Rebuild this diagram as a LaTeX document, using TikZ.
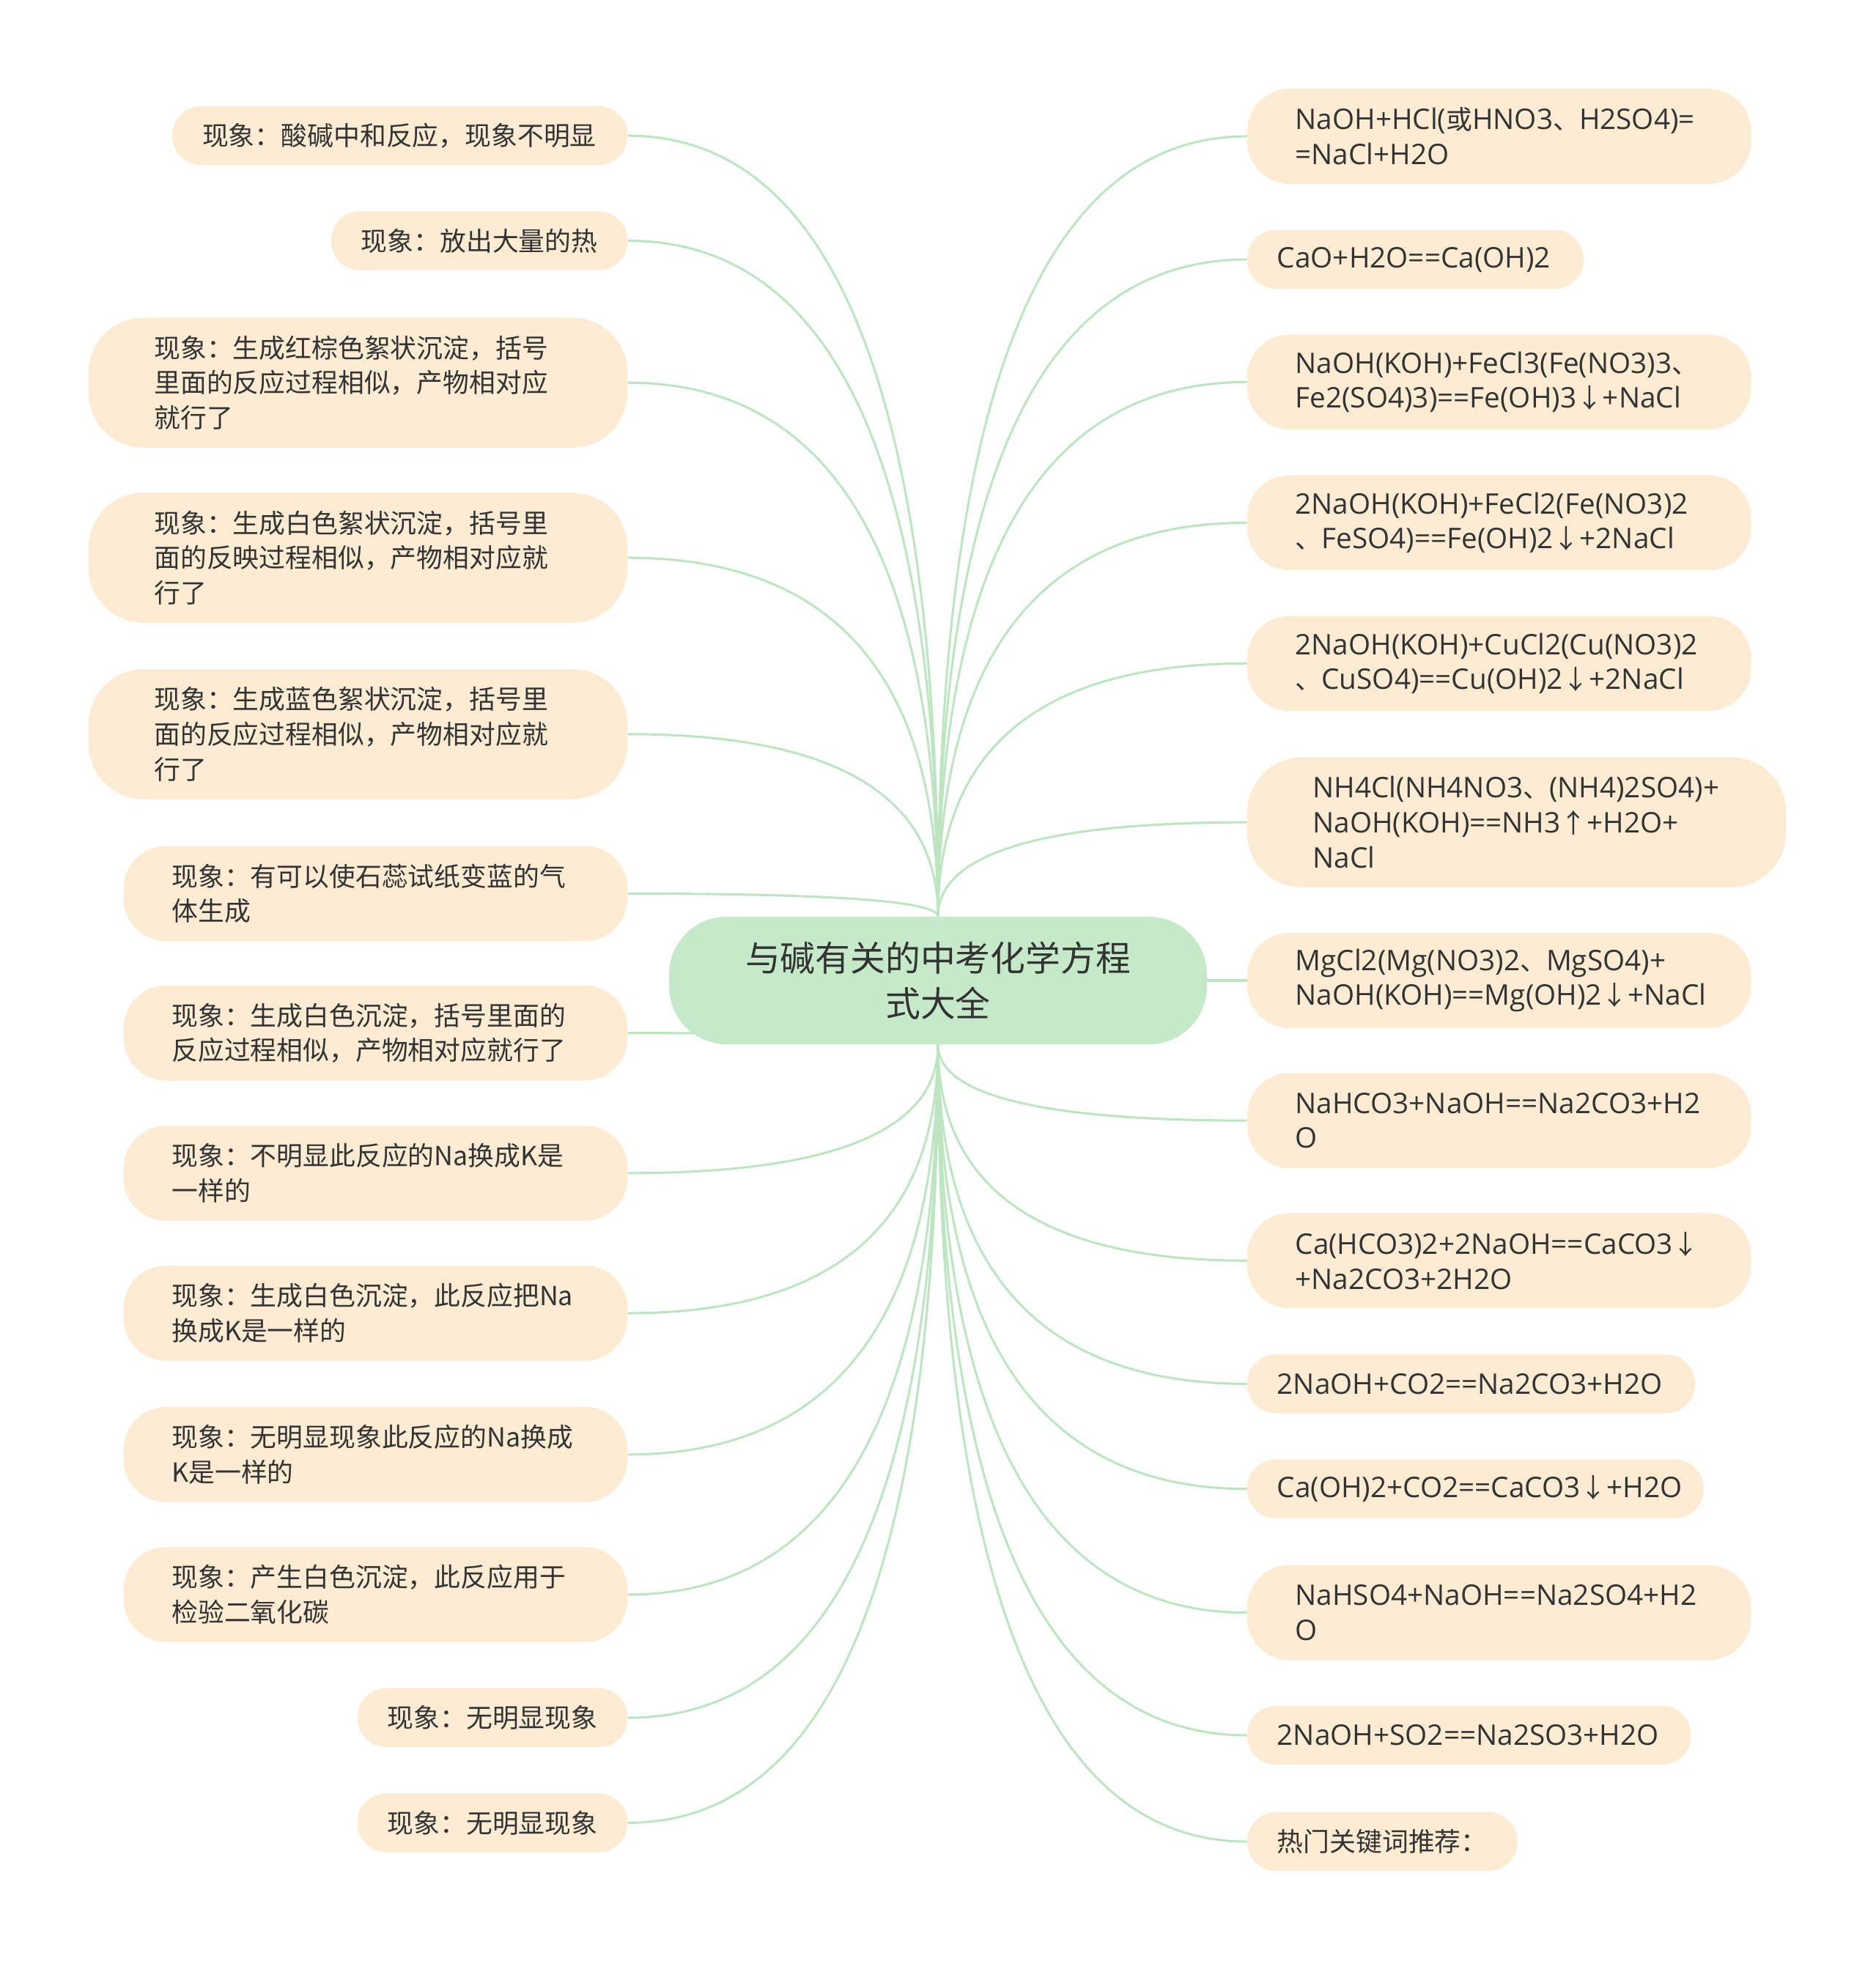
\documentclass[tikz,border=0pt]{standalone}
\usepackage{fontspec}
\setmainfont{Noto Sans CJK SC}
\newfontfamily\eqfont[Scale=1.08]{Open Sans}
\newfontfamily\zhfont{Noto Sans CJK SC}
\newcommand{\zh}[1]{{\zhfont #1}}
\usetikzlibrary{positioning,calc,backgrounds}
\definecolor{linkgreen}{RGB}{190,229,194}
\definecolor{rootgreen}{RGB}{198,234,201}
\definecolor{leafpeach}{RGB}{253,235,212}
\definecolor{inkgray}{RGB}{51,51,51}
\hyphenpenalty=10000
\exhyphenpenalty=10000

\begin{document}
\begin{tikzpicture}[x=1pt,y=-1pt,
  link/.style={draw=linkgreen,line width=1.8pt},
  branch/.style={to path={.. controls ($(\tikztostart)!2/3!(\tikztostart |- \tikztotarget)$)
      and ($(\tikztotarget)!2/3!(\tikztostart |- \tikztotarget)$) .. (\tikztotarget)}},
  root/.style={fill=rootgreen,rounded corners=46pt,minimum width=430pt,minimum height=102pt,
               align=center,text=inkgray,inner sep=0pt,font=\fontsize{28}{36}\selectfont},
  leaf/.style={fill=leafpeach,text=inkgray,align=left,inner ysep=0pt,
               font=\fontsize{21}{28}\selectfont},
  eq/.style={font=\fontsize{21}{28}\selectfont\eqfont},
  one/.style={leaf,inner xsep=24pt,minimum height=47pt,rounded corners=23pt},
  two/.style={leaf,inner xsep=38.5pt,minimum height=76pt,rounded corners=34pt,text width=326pt},
  three/.style={leaf,inner xsep=52.5pt,minimum height=104pt,rounded corners=44pt,text width=326pt},
  lhs/.style={anchor=east},
  rhs/.style={anchor=west}]
\useasboundingbox (0,0) rectangle (1500,1568);
\node[root] (root) at (750,784) {与碱有关的中考化学方程\\式大全};
% left: what you see
\node[one,lhs,text width=316pt] (see1) at (502,108.5) {现象：酸碱中和反应，现象不明显};
\node[one,lhs,text width=189pt] (see2) at (502,192.5) {现象：放出大量的热};
\node[three,lhs] (see3) at (502,306) {现象：生成红棕色絮状沉淀，括号\\里面的反应过程相似，产物相对应\\就行了};
\node[three,lhs] (see4) at (502,446) {现象：生成白色絮状沉淀，括号里\\面的反映过程相似，产物相对应就\\行了};
\node[three,lhs] (see5) at (502,587) {现象：生成蓝色絮状沉淀，括号里\\面的反应过程相似，产物相对应就\\行了};
\node[two,lhs] (see6) at (502,714.5) {现象：有可以使石蕊试纸变蓝的气\\体生成};
\node[two,lhs] (see7) at (502,826) {现象：生成白色沉淀，括号里面的\\反应过程相似，产物相对应就行了};
\node[two,lhs] (see8) at (502,938) {现象：不明显此反应的Na换成K是\\一样的};
\node[two,lhs] (see9) at (502,1050) {现象：生成白色沉淀，此反应把Na\\换成K是一样的};
\node[two,lhs] (see10) at (502,1163) {现象：无明显现象此反应的Na换成\\K是一样的};
\node[two,lhs] (see11) at (502,1275) {现象：产生白色沉淀，此反应用于\\检验二氧化碳};
\node[one,lhs,text width=168pt] (see12) at (502,1373.5) {现象：无明显现象};
\node[one,lhs,text width=168pt] (see13) at (502,1457.5) {现象：无明显现象};
% right: the equations
\node[two,eq,rhs] (eq1) at (997,109) {NaOH+HCl(\zh{或}HNO3\zh{、}H2SO4)=\\=NaCl+H2O};
\node[one,eq,rhs,text width=221pt] (eq2) at (997,207.5) {CaO+H2O==Ca(OH)2};
\node[two,eq,rhs] (eq3) at (997,305.5) {NaOH(KOH)+FeCl3(Fe(NO3)3\zh{、}\\Fe2(SO4)3)==Fe(OH)3\zh{↓}+NaCl};
\node[two,eq,rhs] (eq4) at (997,418) {2NaOH(KOH)+FeCl2(Fe(NO3)2\\\zh{、}FeSO4)==Fe(OH)2\zh{↓}+2NaCl};
\node[two,eq,rhs] (eq5) at (997,530.5) {2NaOH(KOH)+CuCl2(Cu(NO3)2\\\zh{、}CuSO4)==Cu(OH)2\zh{↓}+2NaCl};
\node[three,eq,rhs] (eq6) at (997,657.5) {NH4Cl(NH4NO3\zh{、}(NH4)2SO4)+\\NaOH(KOH)==NH3\zh{↑}+H2O+\\NaCl};
\node[two,eq,rhs] (eq7) at (997,784) {MgCl2(Mg(NO3)2\zh{、}MgSO4)+\\NaOH(KOH)==Mg(OH)2\zh{↓}+NaCl};
\node[two,eq,rhs] (eq8) at (997,896) {NaHCO3+NaOH==Na2CO3+H2\\O};
\node[two,eq,rhs] (eq9) at (997,1008) {Ca(HCO3)2+2NaOH==CaCO3\zh{↓}\\+Na2CO3+2H2O};
\node[one,eq,rhs,text width=310pt] (eq10) at (997,1106.5) {2NaOH+CO2==Na2CO3+H2O};
\node[one,eq,rhs,text width=317pt] (eq11) at (997,1190.5) {Ca(OH)2+CO2==CaCO3\zh{↓}+H2O};
\node[two,eq,rhs] (eq12) at (997,1289.5) {NaHSO4+NaOH==Na2SO4+H2\\O};
\node[one,eq,rhs,text width=307pt] (eq13) at (997,1387.5) {2NaOH+SO2==Na2SO3+H2O};
\node[one,rhs,text width=168pt] (hot) at (997,1472.5) {热门关键词推荐：};

\begin{pgfonlayer}{background}
\fill[white] (0,0) rectangle (1500,1568);
% branches, left side
\draw[link] (root.north) to[branch] (see1.east);
\draw[link] (root.north) to[branch] (see2.east);
\draw[link] (root.north) to[branch] (see3.east);
\draw[link] (root.north) to[branch] (see4.east);
\draw[link] (root.north) to[branch] (see5.east);
\draw[link] (root.north) to[branch] (see6.east);
\draw[link] (root.south) to[branch] (see7.east);
\draw[link] (root.south) to[branch] (see8.east);
\draw[link] (root.south) to[branch] (see9.east);
\draw[link] (root.south) to[branch] (see10.east);
\draw[link] (root.south) to[branch] (see11.east);
\draw[link] (root.south) to[branch] (see12.east);
\draw[link] (root.south) to[branch] (see13.east);
% branches, right side
\draw[link] (root.north) to[branch] (eq1.west);
\draw[link] (root.north) to[branch] (eq2.west);
\draw[link] (root.north) to[branch] (eq3.west);
\draw[link] (root.north) to[branch] (eq4.west);
\draw[link] (root.north) to[branch] (eq5.west);
\draw[link] (root.north) to[branch] (eq6.west);
\draw[link] (root.east) -- (eq7.west);
\draw[link] (root.south) to[branch] (eq8.west);
\draw[link] (root.south) to[branch] (eq9.west);
\draw[link] (root.south) to[branch] (eq10.west);
\draw[link] (root.south) to[branch] (eq11.west);
\draw[link] (root.south) to[branch] (eq12.west);
\draw[link] (root.south) to[branch] (eq13.west);
\draw[link] (root.south) to[branch] (hot.west);
\end{pgfonlayer}
\end{tikzpicture}
\end{document}
